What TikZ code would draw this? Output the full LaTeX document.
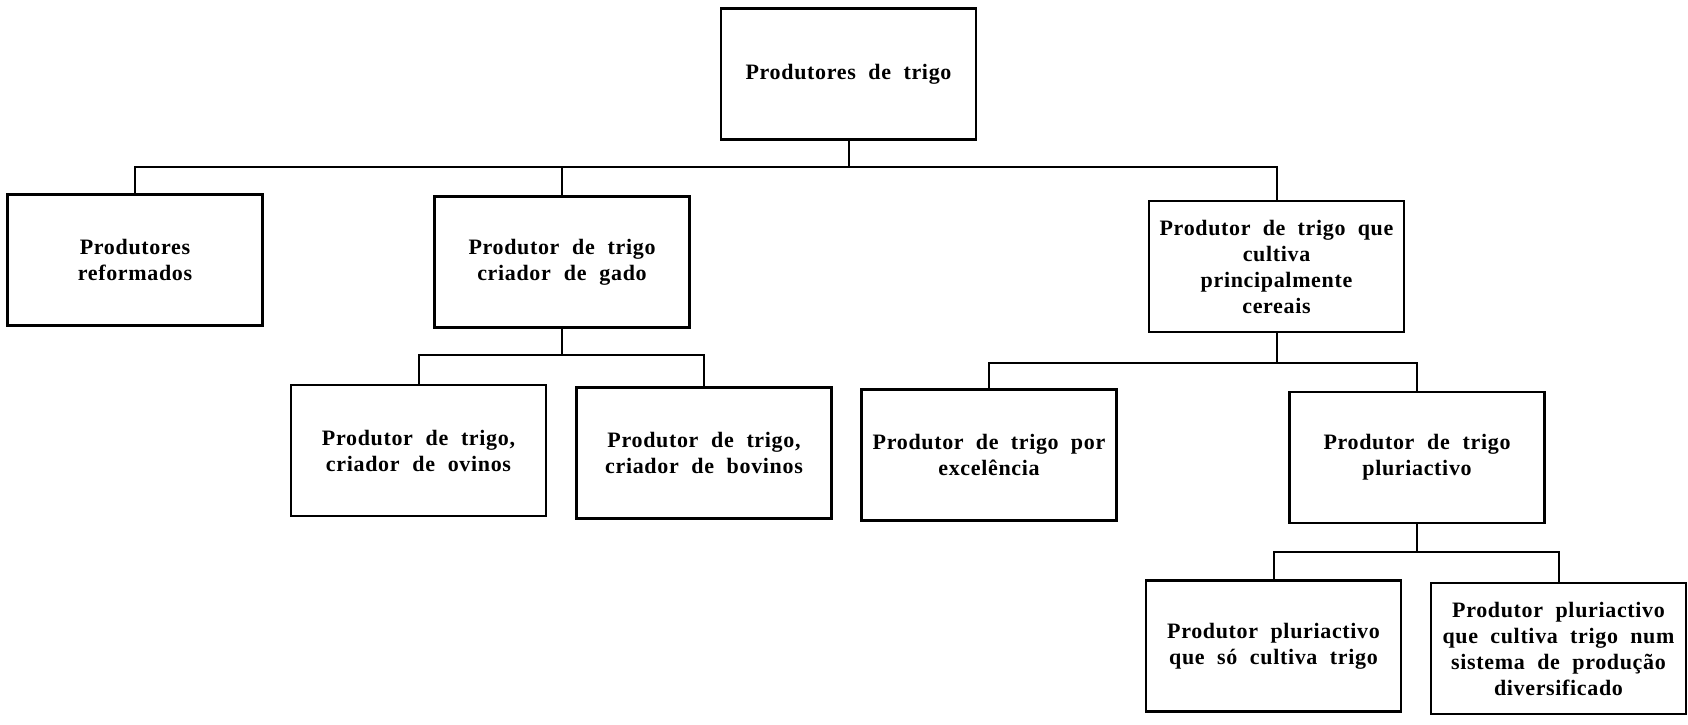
\documentclass[tikz,border=0pt]{standalone}
\usepackage{fontspec}
\setmainfont{Liberation Serif}[LetterSpace=3]
\newcommand{\boxfont}{\fontsize{22}{26}\selectfont\bfseries}
\begin{document}
\begin{tikzpicture}[x=1pt,y=-1pt,
  box/.style={draw, line width=2.2pt, minimum width=255pt, minimum height=131pt,
    inner sep=0pt, align=center, text width=254pt, font=\boxfont,
    execute at begin node={\spaceskip=12pt plus 1pt minus 1pt\relax}},
  conn/.style={line width=2pt}]
\useasboundingbox (0,0) rectangle (1688,724);
\node[box] (top) at (848.5,74) {Produtores de trigo};
\node[box] (ref) at (135,260) {Produtores\\reformados};
\node[box] (gado) at (562,262) {Produtor de trigo\\criador de gado};
\node[box] (cer) at (1276.5,266.5) {Produtor de trigo que\\cultiva\\principalmente\\cereais};
\node[box] (ovi) at (418.5,450.5) {Produtor de trigo,\\criador de ovinos};
\node[box] (bov) at (704,453) {Produtor de trigo,\\criador de bovinos};
\node[box] (exc) at (989,455) {Produtor de trigo por\\excelência};
\node[box] (plu) at (1417,457.5) {Produtor de trigo\\pluriactivo};
\node[box] (so) at (1273.5,646) {Produtor pluriactivo\\que só cultiva trigo};
\node[box] (div) at (1558.5,648.5) {Produtor pluriactivo\\que cultiva trigo num\\sistema de produção\\diversificado};
\coordinate (b1) at (848.5,167);
\coordinate (b2) at (562,355);
\coordinate (b3) at (1276.5,363);
\coordinate (b4) at (1417,552);
\foreach \c in {ref,gado,cer} \draw[conn] (top.south) -- (b1) -| (\c.north);
\foreach \c in {ovi,bov} \draw[conn] (gado.south) -- (b2) -| (\c.north);
\foreach \c in {exc,plu} \draw[conn] (cer.south) -- (b3) -| (\c.north);
\foreach \c in {so,div} \draw[conn] (plu.south) -- (b4) -| (\c.north);
\end{tikzpicture}
\end{document}
